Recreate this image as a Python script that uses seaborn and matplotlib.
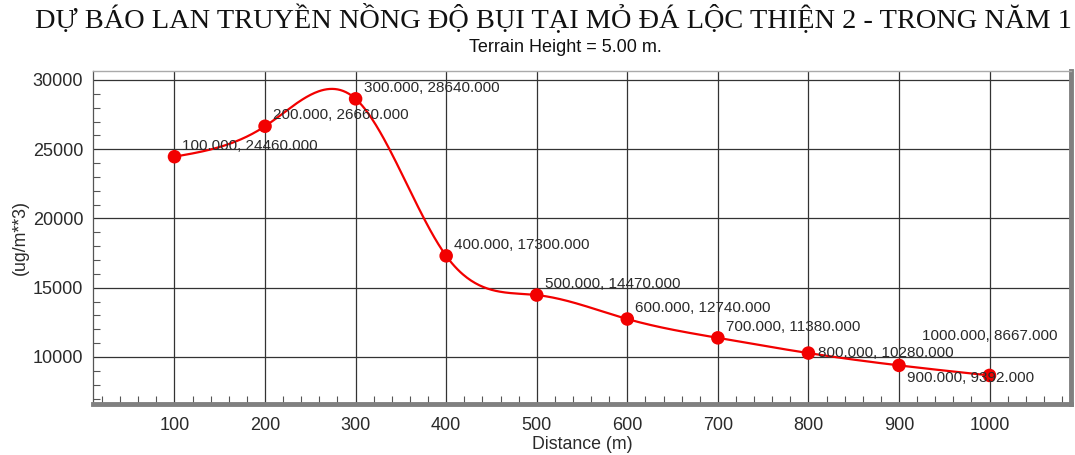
import numpy as np
import pandas as pd
import matplotlib
matplotlib.use("Agg")
import matplotlib.pyplot as plt
from matplotlib.ticker import MultipleLocator
import seaborn as sns

# Dust concentration forecast along distance from the quarry
distance_m = [100, 200, 300, 400, 500, 600, 700, 800, 900, 1000]
concentration = [24460, 26660, 28640, 17300, 14470, 12740, 11380, 10280, 9392, 8667]

title = "DỰ BÁO LAN TRUYỀN NỒNG ĐỘ BỤI TẠI MỎ ĐÁ LỘC THIỆN 2 - TRONG NĂM 1"
subtitle = "Terrain Height = 5.00 m."
x_label = "Distance (m)"
y_label = "(ug/m**3)"
x_ticks = [100, 200, 300, 400, 500, 600, 700, 800, 900, 1000]
y_ticks = [10000, 15000, 20000, 25000, 30000]


def natural_spline(x, y, n=600):
    """Natural cubic spline through (x, y), evaluated on a dense grid."""
    x = np.asarray(x, float)
    y = np.asarray(y, float)
    k = len(x)
    h = np.diff(x)
    A = np.zeros((k, k))
    b = np.zeros(k)
    A[0, 0] = A[-1, -1] = 1.0
    for i in range(1, k - 1):
        A[i, i - 1] = h[i - 1]
        A[i, i] = 2 * (h[i - 1] + h[i])
        A[i, i + 1] = h[i]
        b[i] = 6 * ((y[i + 1] - y[i]) / h[i] - (y[i] - y[i - 1]) / h[i - 1])
    m = np.linalg.solve(A, b)
    xs = np.linspace(x[0], x[-1], n)
    idx = np.clip(np.searchsorted(x, xs) - 1, 0, k - 2)
    x0, x1 = x[idx], x[idx + 1]
    hh = x1 - x0
    t0, t1 = x1 - xs, xs - x0
    ys = (m[idx] * t0 ** 3 / (6 * hh) + m[idx + 1] * t1 ** 3 / (6 * hh)
          + (y[idx] / hh - m[idx] * hh / 6) * t0
          + (y[idx + 1] / hh - m[idx + 1] * hh / 6) * t1)
    return xs, ys


points = pd.DataFrame({"distance": distance_m, "value": concentration})
sx, sy = natural_spline(distance_m, concentration)
curve = pd.DataFrame({"distance": sx, "value": sy})

sns.set_style("white")
plt.rcParams["font.family"] = ["Liberation Sans", "DejaVu Sans"]

fig = plt.figure(figsize=(10.75, 4.55), dpi=100)
ax = fig.add_axes([0.0865, 0.112, 0.9098, 0.732])

red = "#f20000"
sns.lineplot(data=curve, x="distance", y="value", color=red, lw=1.6, ax=ax, zorder=3)
sns.scatterplot(data=points, x="distance", y="value", color=red, s=95,
                edgecolor="none", ax=ax, zorder=4)

# value labels, offset in pixels from each point
offsets = {800: (10, 0), 900: (8, -13), 1000: (-68, 39)}
for xv, yv in zip(distance_m, concentration):
    dx, dy = offsets.get(xv, (8, 11))
    ax.annotate(f"{xv:.3f}, {yv:.3f}", (xv, yv), xytext=(dx, dy),
                textcoords="offset pixels", fontsize=11, color="#2a2a2a",
                va="center", ha="left", zorder=5)

ax.set_xlim(10, 1090)
ax.set_ylim(6600, 30650)
ax.set_xticks(x_ticks)
ax.set_yticks(y_ticks)
ax.xaxis.set_minor_locator(MultipleLocator(20))
ax.yaxis.set_minor_locator(MultipleLocator(1000))
ax.grid(True, which="major", color="#333333", lw=0.9)
ax.set_axisbelow(True)

ax.tick_params(axis="both", which="major", direction="out", length=5, width=0.9,
               color="#333333", labelsize=13, labelcolor="#2a2a2a", pad=2)
ax.tick_params(axis="x", which="major", pad=4)
ax.tick_params(axis="x", which="minor", direction="in", length=6, width=0.8,
               color="#555555", bottom=True)
ax.tick_params(axis="y", which="minor", direction="in", length=5, width=0.8,
               color="#555555", left=True)

for side, sp in ax.spines.items():
    sp.set_visible(True)
ax.spines["left"].set_color("#555555")
ax.spines["left"].set_linewidth(0.9)
ax.spines["top"].set_color("#aaaaaa")
ax.spines["top"].set_linewidth(1.0)
ax.spines["bottom"].set_color("#808080")
ax.spines["bottom"].set_linewidth(3.5)
ax.spines["right"].set_color("#808080")
ax.spines["right"].set_linewidth(3.5)

ax.set_xlabel(x_label, fontsize=12.8, color="#2a2a2a", labelpad=2)
ax.set_ylabel(y_label, fontsize=12.8, color="#2a2a2a", labelpad=3)

fig.text(0.515, 0.961, title, ha="center", va="center", fontsize=20.4,
         family=["Liberation Serif", "DejaVu Serif"], color="#111111")
fig.text(0.526, 0.896, subtitle, ha="center", va="center", fontsize=13,
         color="#111111")

fig.savefig("out.png", dpi=100)
